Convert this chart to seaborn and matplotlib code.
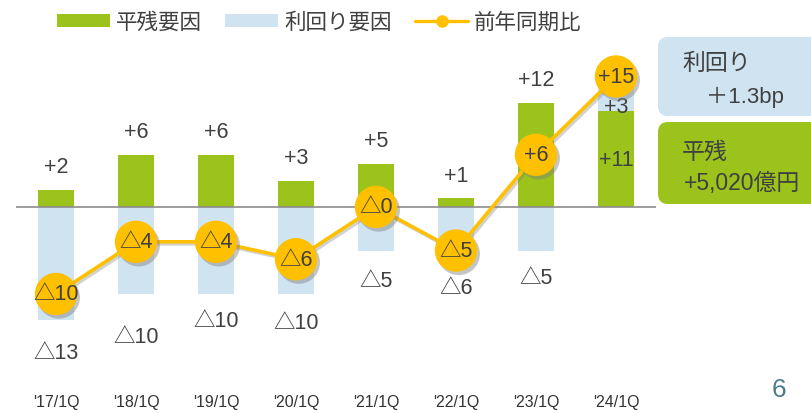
import numpy as np
import matplotlib
matplotlib.use("Agg")
import matplotlib.pyplot as plt
import matplotlib.patheffects as pe
from matplotlib.patches import Patch, FancyBboxPatch
from matplotlib.lines import Line2D
import seaborn as sns

# ---- data ----
categories = ["'17/1Q", "'18/1Q", "'19/1Q", "'20/1Q", "'21/1Q", "'22/1Q", "'23/1Q", "'24/1Q"]
balance_factor = [2, 6, 6, 3, 5, 1, 12, 11]          # 平残要因
yield_factor = [-13, -10, -10, -10, -5, -6, -5, 3]   # 利回り要因
yoy_change = [-10, -4, -4, -6, 0, -5, 6, 15]         # 前年同期比
legend_labels = ["平残要因", "利回り要因", "前年同期比"]
box_yield = ["利回り", "＋1.3bp"]
box_balance = ["平残", "+5,020億円"]
page_number = "6"

# ---- styles ----
GREEN = "#9BC31B"
BLUE = "#CFE3F1"
YELLOW = "#FFC000"
TEXT = "#404040"
blue_label_gap_px = [32, 43, 27, 29, 30, 28, 27, 0]
PX = 0.72  # points per pixel at dpi 100

sns.set_theme(style="white")
plt.rcParams["font.family"] = ["Liberation Sans", "Noto Sans CJK JP", "DejaVu Sans"]

fig = plt.figure(figsize=(8.12, 4.14), dpi=100)
ax = fig.add_axes([16 / 812, 1 - 370 / 414, 640 / 812, 330 / 414])

n = len(categories)
xpos = np.arange(n)

# blue bars: negative from 0, positive stacked on top of green (drawn behind green)
blue_heights = [b if b < 0 else g + b for g, b in zip(balance_factor, yield_factor)]
sns.barplot(x=categories, y=blue_heights, color=BLUE, saturation=1, width=0.45,
            errorbar=None, ax=ax, zorder=1, linewidth=0)
sns.barplot(x=categories, y=balance_factor, color=GREEN, saturation=1, width=0.45,
            errorbar=None, ax=ax, zorder=1.5, linewidth=0)

ax.axhline(0, color="#8C8C8C", linewidth=1.2, zorder=2)

sns.lineplot(x=xpos, y=yoy_change, color=YELLOW, linewidth=2.6, ax=ax, zorder=3)
ax.lines[-1].set_path_effects([pe.SimpleLineShadow(offset=(1.5, -1.5), shadow_color="gray", alpha=0.35),
                               pe.Normal()])
sns.scatterplot(x=xpos, y=yoy_change, s=930, color=YELLOW, edgecolor="none", linewidth=0,
                ax=ax, zorder=4)
ax.collections[-1].set_path_effects([pe.SimplePatchShadow(offset=(2, -2.5), shadow_rgbFace="gray", alpha=0.45),
                                     pe.Normal()])


def fmt(v):
    return f"+{v}" if v > 0 else f"△{abs(v)}"


FS = 15.5
for i in range(n):
    g, b, l = balance_factor[i], yield_factor[i], yoy_change[i]
    if b > 0:
        ax.annotate(fmt(g), (i, g / 2), ha="center", va="center", fontsize=FS, color=TEXT, zorder=5)
        ax.annotate(fmt(b), (i, g), xytext=(0, 5 * PX), textcoords="offset points",
                    ha="center", va="center", fontsize=FS, color=TEXT, zorder=3.5)
    else:
        ax.annotate(fmt(g), (i, g), xytext=(0, 23 * PX), textcoords="offset points",
                    ha="center", va="center", fontsize=FS, color=TEXT, zorder=5)
        ax.annotate(fmt(b), (i, b), xytext=(0, -blue_label_gap_px[i] * PX), textcoords="offset points",
                    ha="center", va="center", fontsize=FS, color=TEXT, zorder=5)
    ax.text(i, l, fmt(l), ha="center", va="center", fontsize=FS, color=TEXT, zorder=6)

ax.set_xlim(-0.5, n - 0.5)
ax.set_ylim(-(370 - 208) / 8.7, (208 - 40) / 8.7)
ax.set_yticks([])
ax.set_xlabel("")
ax.set_ylabel("")
ax.tick_params(axis="x", length=0, pad=18, labelsize=11.5, labelcolor="#333333")
for s in ax.spines.values():
    s.set_visible(False)

# legend
handles = [
    Patch(facecolor=GREEN, edgecolor="none"),
    Patch(facecolor=BLUE, edgecolor="none"),
    Line2D([0], [0], color=YELLOW, linewidth=2.4, marker="o", markersize=9,
           markerfacecolor=YELLOW, markeredgewidth=0),
]
fig.legend(handles, legend_labels, loc="center left", bbox_to_anchor=(57 / 812, 1 - 23 / 414),
           ncol=3, frameon=False, borderpad=0, borderaxespad=0, handlelength=2.45,
           handleheight=0.55, handletextpad=0.28, columnspacing=1.1,
           prop={"family": ["Noto Sans CJK JP"], "size": 15.5}, labelcolor=TEXT)

# side boxes (pixel-inch coordinates)
def box(x0, y0, x1, y1, color):
    p = FancyBboxPatch((x0 / 100, (414 - y1) / 100), (x1 - x0) / 100, (y1 - y0) / 100,
                       boxstyle="round,pad=0,rounding_size=0.1", transform=fig.dpi_scale_trans,
                       facecolor=color, edgecolor="none")
    fig.add_artist(p)

box(658, 38, 830, 117, BLUE)
box(658, 123, 830, 205, GREEN)

def ftext(x, y, s, **kw):
    fig.text(x / 812, 1 - y / 414, s, va="center", ha="left", color=TEXT, **kw)

ftext(682, 63, box_yield[0], fontsize=16.5)
ftext(706, 97, box_yield[1], fontsize=16)
ftext(682, 152, box_balance[0], fontsize=16.5)
ftext(684, 184, box_balance[1], fontsize=16.5)

fig.text(779 / 812, 1 - 390 / 414, page_number, ha="center", va="center", fontsize=19, color="#4F7B8F")

fig.savefig("out.png", dpi=100)
